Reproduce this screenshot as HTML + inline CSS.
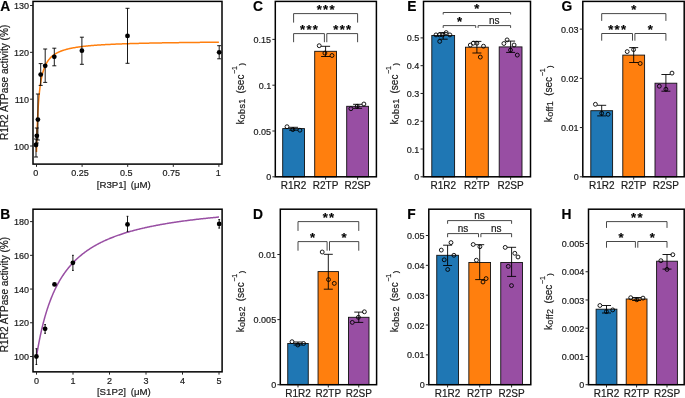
<!DOCTYPE html>
<html><head><meta charset="utf-8"><title>Figure</title>
<style>html,body{margin:0;padding:0;background:#fff;}body{width:685px;height:398px;overflow:hidden;font-family:"Liberation Sans", sans-serif;}svg{display:block;will-change:transform;}text{stroke:#1a1a1a;stroke-width:0.2px;stroke-linejoin:round;}</style>
</head><body><svg width="685" height="398" viewBox="0 0 685 398" font-family='"Liberation Sans", sans-serif'><rect x="33" y="1.4" width="189" height="162.7" fill="none" stroke="#000" stroke-width="1.5"/><line x1="30.05" y1="146" x2="33" y2="146" stroke="#222" stroke-width="1"/><text x="29.05" y="149.55" font-size="9" text-anchor="end" font-weight="normal" fill="#1a1a1a">100</text><line x1="30.05" y1="99.17" x2="33" y2="99.17" stroke="#222" stroke-width="1"/><text x="29.05" y="102.72" font-size="9" text-anchor="end" font-weight="normal" fill="#1a1a1a">110</text><line x1="30.05" y1="52.34" x2="33" y2="52.34" stroke="#222" stroke-width="1"/><text x="29.05" y="55.89" font-size="9" text-anchor="end" font-weight="normal" fill="#1a1a1a">120</text><line x1="30.05" y1="5.51" x2="33" y2="5.51" stroke="#222" stroke-width="1"/><text x="29.05" y="9.06" font-size="9" text-anchor="end" font-weight="normal" fill="#1a1a1a">130</text><line x1="36.5" y1="164.1" x2="36.5" y2="166.85" stroke="#222" stroke-width="1"/><text x="35.85" y="175.8" font-size="9" text-anchor="middle" font-weight="normal" fill="#1a1a1a">0</text><line x1="82.1" y1="164.1" x2="82.1" y2="166.85" stroke="#222" stroke-width="1"/><text x="80.1" y="175.8" font-size="9" text-anchor="middle" font-weight="normal" fill="#1a1a1a">0.25</text><line x1="127.7" y1="164.1" x2="127.7" y2="166.85" stroke="#222" stroke-width="1"/><text x="126.15" y="175.8" font-size="9" text-anchor="middle" font-weight="normal" fill="#1a1a1a">0.5</text><line x1="173.3" y1="164.1" x2="173.3" y2="166.85" stroke="#222" stroke-width="1"/><text x="171.3" y="175.8" font-size="9" text-anchor="middle" font-weight="normal" fill="#1a1a1a">0.75</text><line x1="218.9" y1="164.1" x2="218.9" y2="166.85" stroke="#222" stroke-width="1"/><text x="218.25" y="175.8" font-size="9" text-anchor="middle" font-weight="normal" fill="#1a1a1a">1</text><text x="96.7" y="187.6" font-size="9.7" text-anchor="start" font-weight="normal" fill="#1a1a1a">[R3P1]</text><text x="130.7" y="187.6" font-size="9.7" text-anchor="start" font-weight="normal" fill="#1a1a1a">(μM)</text><text transform="translate(7.8,82.4) rotate(-90)" font-size="10.1" text-anchor="middle" fill="#1a1a1a">R1R2 ATPase activity (%)</text><text x="0.25" y="10.9" font-size="13.8" text-anchor="start" font-weight="bold" fill="#000">A</text><polyline points="36.5,152.09 36.5,152.07 36.5,152.02 36.5,151.92 36.51,151.77 36.51,151.57 36.52,151.31 36.52,151 36.53,150.64 36.54,150.22 36.55,149.74 36.57,149.2 36.58,148.61 36.6,147.97 36.61,147.27 36.63,146.52 36.65,145.72 36.68,144.87 36.7,143.98 36.72,143.04 36.75,142.05 36.78,141.03 36.81,139.96 36.84,138.87 36.87,137.74 36.91,136.58 36.95,135.39 36.98,134.17 37.03,132.94 37.07,131.68 37.11,130.41 37.16,129.12 37.2,127.82 37.25,126.51 37.3,125.2 37.36,123.88 37.41,122.55 37.47,121.22 37.53,119.9 37.59,118.57 37.65,117.25 37.72,115.94 37.78,114.63 37.85,113.34 37.92,112.05 37.99,110.77 38.07,109.51 38.14,108.26 38.22,107.02 38.3,105.8 38.38,104.59 38.46,103.4 38.55,102.22 38.64,101.07 38.73,99.93 38.82,98.81 38.91,97.7 39.01,96.62 39.11,95.55 39.21,94.51 39.31,93.48 39.41,92.47 39.52,91.48 39.63,90.51 39.74,89.56 39.85,88.62 39.96,87.71 40.08,86.81 40.2,85.93 40.32,85.07 40.44,84.23 40.57,83.4 40.69,82.6 40.82,81.81 40.95,81.03 41.09,80.28 41.22,79.54 41.36,78.81 41.5,78.1 41.64,77.41 41.79,76.73 41.93,76.07 42.08,75.42 42.23,74.79 42.39,74.17 42.54,73.56 42.7,72.97 42.86,72.39 43.02,71.82 43.19,71.26 43.35,70.72 43.52,70.19 43.69,69.67 43.86,69.16 44.04,68.67 44.22,68.18 44.4,67.71 44.58,67.25 44.76,66.79 44.95,66.35 45.14,65.91 45.33,65.49 45.52,65.07 45.72,64.67 45.92,64.27 46.12,63.88 46.32,63.5 46.53,63.13 46.73,62.76 46.94,62.41 47.16,62.06 47.37,61.71 47.59,61.38 47.8,61.05 48.03,60.73 48.25,60.42 48.48,60.11 48.7,59.81 48.93,59.51 49.17,59.23 49.4,58.94 49.64,58.67 49.88,58.39 50.12,58.13 50.37,57.87 50.62,57.61 50.87,57.36 51.12,57.12 51.37,56.88 51.63,56.64 51.89,56.41 52.15,56.18 52.41,55.96 52.68,55.74 52.95,55.53 53.22,55.32 53.49,55.12 53.77,54.91 54.05,54.72 54.33,54.52 54.61,54.33 54.9,54.15 55.19,53.96 55.48,53.78 55.77,53.61 56.07,53.44 56.36,53.27 56.66,53.1 56.97,52.94 57.27,52.77 57.58,52.62 57.89,52.46 58.2,52.31 58.52,52.16 58.84,52.01 59.16,51.87 59.48,51.73 59.81,51.59 60.13,51.45 60.46,51.32 60.8,51.19 61.13,51.06 61.47,50.93 61.81,50.8 62.15,50.68 62.5,50.56 62.85,50.44 63.2,50.32 63.55,50.21 63.91,50.09 64.26,49.98 64.62,49.87 64.99,49.77 65.35,49.66 65.72,49.56 66.09,49.45 66.47,49.35 66.84,49.25 67.22,49.16 67.6,49.06 67.98,48.97 68.37,48.87 68.76,48.78 69.15,48.69 69.54,48.6 69.94,48.52 70.34,48.43 70.74,48.34 71.14,48.26 71.55,48.18 71.96,48.1 72.37,48.02 72.79,47.94 73.2,47.86 73.62,47.79 74.05,47.71 74.47,47.64 74.9,47.57 75.33,47.49 75.76,47.42 76.2,47.35 76.64,47.29 77.08,47.22 77.52,47.15 77.96,47.09 78.41,47.02 78.86,46.96 79.32,46.89 79.77,46.83 80.23,46.77 80.7,46.71 81.16,46.65 81.63,46.59 82.1,46.54 82.57,46.48 83.04,46.42 83.52,46.37 84,46.31 84.48,46.26 84.97,46.21 85.46,46.15 85.95,46.1 86.44,46.05 86.94,46 87.44,45.95 87.94,45.9 88.44,45.85 88.95,45.81 89.46,45.76 89.97,45.71 90.49,45.67 91.01,45.62 91.53,45.58 92.05,45.53 92.57,45.49 93.1,45.45 93.63,45.4 94.17,45.36 94.71,45.32 95.24,45.28 95.79,45.24 96.33,45.2 96.88,45.16 97.43,45.12 97.98,45.08 98.54,45.04 99.1,45.01 99.66,44.97 100.22,44.93 100.79,44.9 101.36,44.86 101.93,44.83 102.5,44.79 103.08,44.76 103.66,44.72 104.25,44.69 104.83,44.66 105.42,44.62 106.01,44.59 106.61,44.56 107.2,44.53 107.8,44.5 108.4,44.47 109.01,44.44 109.62,44.41 110.23,44.38 110.84,44.35 111.46,44.32 112.08,44.29 112.7,44.26 113.32,44.23 113.95,44.2 114.58,44.18 115.21,44.15 115.85,44.12 116.49,44.09 117.13,44.07 117.77,44.04 118.42,44.02 119.07,43.99 119.72,43.97 120.38,43.94 121.04,43.92 121.7,43.89 122.36,43.87 123.03,43.84 123.7,43.82 124.37,43.8 125.04,43.77 125.72,43.75 126.4,43.73 127.09,43.71 127.77,43.68 128.46,43.66 129.15,43.64 129.85,43.62 130.54,43.6 131.25,43.58 131.95,43.56 132.65,43.54 133.36,43.52 134.08,43.49 134.79,43.47 135.51,43.46 136.23,43.44 136.95,43.42 137.68,43.4 138.41,43.38 139.14,43.36 139.87,43.34 140.61,43.32 141.35,43.3 142.09,43.29 142.84,43.27 143.59,43.25 144.34,43.23 145.09,43.22 145.85,43.2 146.61,43.18 147.37,43.16 148.14,43.15 148.91,43.13 149.68,43.12 150.46,43.1 151.23,43.08 152.01,43.07 152.8,43.05 153.58,43.04 154.37,43.02 155.17,43 155.96,42.99 156.76,42.97 157.56,42.96 158.36,42.95 159.17,42.93 159.98,42.92 160.79,42.9 161.61,42.89 162.42,42.87 163.25,42.86 164.07,42.85 164.9,42.83 165.73,42.82 166.56,42.81 167.39,42.79 168.23,42.78 169.07,42.77 169.92,42.75 170.77,42.74 171.62,42.73 172.47,42.71 173.33,42.7 174.19,42.69 175.05,42.68 175.91,42.67 176.78,42.65 177.65,42.64 178.52,42.63 179.4,42.62 180.28,42.61 181.16,42.59 182.05,42.58 182.94,42.57 183.83,42.56 184.72,42.55 185.62,42.54 186.52,42.53 187.42,42.52 188.33,42.51 189.24,42.49 190.15,42.48 191.07,42.47 191.98,42.46 192.91,42.45 193.83,42.44 194.76,42.43 195.69,42.42 196.62,42.41 197.56,42.4 198.49,42.39 199.44,42.38 200.38,42.37 201.33,42.36 202.28,42.35 203.23,42.34 204.19,42.34 205.15,42.33 206.11,42.32 207.08,42.31 208.05,42.3 209.02,42.29 209.99,42.28 210.97,42.27 211.95,42.26 212.93,42.25 213.92,42.25 214.91,42.24 215.9,42.23 216.9,42.22 217.9,42.21 218.9,42.2" fill="none" stroke="#ff7f0e" stroke-width="1.5"/><line x1="36" y1="139" x2="36" y2="157" stroke="#000" stroke-width="0.9"/><line x1="34" y1="139" x2="38" y2="139" stroke="#000" stroke-width="0.9"/><line x1="34" y1="157" x2="38" y2="157" stroke="#000" stroke-width="0.9"/><line x1="36.8" y1="128" x2="36.8" y2="143" stroke="#000" stroke-width="0.9"/><line x1="34.8" y1="128" x2="38.8" y2="128" stroke="#000" stroke-width="0.9"/><line x1="34.8" y1="143" x2="38.8" y2="143" stroke="#000" stroke-width="0.9"/><line x1="37.9" y1="94" x2="37.9" y2="140" stroke="#000" stroke-width="0.9"/><line x1="35.9" y1="94" x2="39.9" y2="94" stroke="#000" stroke-width="0.9"/><line x1="35.9" y1="140" x2="39.9" y2="140" stroke="#000" stroke-width="0.9"/><line x1="40.7" y1="63.6" x2="40.7" y2="85.4" stroke="#000" stroke-width="0.9"/><line x1="38.7" y1="63.6" x2="42.7" y2="63.6" stroke="#000" stroke-width="0.9"/><line x1="38.7" y1="85.4" x2="42.7" y2="85.4" stroke="#000" stroke-width="0.9"/><line x1="45.2" y1="49" x2="45.2" y2="82.4" stroke="#000" stroke-width="0.9"/><line x1="43.2" y1="49" x2="47.2" y2="49" stroke="#000" stroke-width="0.9"/><line x1="43.2" y1="82.4" x2="47.2" y2="82.4" stroke="#000" stroke-width="0.9"/><line x1="54.3" y1="48.2" x2="54.3" y2="65.8" stroke="#000" stroke-width="0.9"/><line x1="52.3" y1="48.2" x2="56.3" y2="48.2" stroke="#000" stroke-width="0.9"/><line x1="52.3" y1="65.8" x2="56.3" y2="65.8" stroke="#000" stroke-width="0.9"/><line x1="81.9" y1="37.2" x2="81.9" y2="64.3" stroke="#000" stroke-width="0.9"/><line x1="79.9" y1="37.2" x2="83.9" y2="37.2" stroke="#000" stroke-width="0.9"/><line x1="79.9" y1="64.3" x2="83.9" y2="64.3" stroke="#000" stroke-width="0.9"/><line x1="127.5" y1="8.3" x2="127.5" y2="63.3" stroke="#000" stroke-width="0.9"/><line x1="125.5" y1="8.3" x2="129.5" y2="8.3" stroke="#000" stroke-width="0.9"/><line x1="125.5" y1="63.3" x2="129.5" y2="63.3" stroke="#000" stroke-width="0.9"/><line x1="219.2" y1="45.7" x2="219.2" y2="58.8" stroke="#000" stroke-width="0.9"/><line x1="217.2" y1="45.7" x2="221.2" y2="45.7" stroke="#000" stroke-width="0.9"/><line x1="217.2" y1="58.8" x2="221.2" y2="58.8" stroke="#000" stroke-width="0.9"/><circle cx="36" cy="145" r="2.4" fill="#000"/><circle cx="36.8" cy="135.8" r="2.4" fill="#000"/><circle cx="37.9" cy="119.6" r="2.4" fill="#000"/><circle cx="40.7" cy="74.6" r="2.4" fill="#000"/><circle cx="45.2" cy="65.8" r="2.4" fill="#000"/><circle cx="54.3" cy="56.8" r="2.4" fill="#000"/><circle cx="81.9" cy="50.7" r="2.4" fill="#000"/><circle cx="127.5" cy="35.9" r="2.4" fill="#000"/><circle cx="219.2" cy="52.3" r="2.4" fill="#000"/><rect x="33" y="209.2" width="189.1" height="162.65" fill="none" stroke="#000" stroke-width="1.5"/><line x1="30.05" y1="356.5" x2="33" y2="356.5" stroke="#222" stroke-width="1"/><text x="29.05" y="360.05" font-size="9" text-anchor="end" font-weight="normal" fill="#1a1a1a">100</text><line x1="30.05" y1="322.78" x2="33" y2="322.78" stroke="#222" stroke-width="1"/><text x="29.05" y="326.33" font-size="9" text-anchor="end" font-weight="normal" fill="#1a1a1a">120</text><line x1="30.05" y1="289.06" x2="33" y2="289.06" stroke="#222" stroke-width="1"/><text x="29.05" y="292.61" font-size="9" text-anchor="end" font-weight="normal" fill="#1a1a1a">140</text><line x1="30.05" y1="255.34" x2="33" y2="255.34" stroke="#222" stroke-width="1"/><text x="29.05" y="258.89" font-size="9" text-anchor="end" font-weight="normal" fill="#1a1a1a">160</text><line x1="30.05" y1="221.62" x2="33" y2="221.62" stroke="#222" stroke-width="1"/><text x="29.05" y="225.17" font-size="9" text-anchor="end" font-weight="normal" fill="#1a1a1a">180</text><line x1="36.5" y1="371.85" x2="36.5" y2="374.6" stroke="#222" stroke-width="1"/><text x="36.5" y="383.55" font-size="9" text-anchor="middle" font-weight="normal" fill="#1a1a1a">0</text><line x1="73" y1="371.85" x2="73" y2="374.6" stroke="#222" stroke-width="1"/><text x="73" y="383.55" font-size="9" text-anchor="middle" font-weight="normal" fill="#1a1a1a">1</text><line x1="109.5" y1="371.85" x2="109.5" y2="374.6" stroke="#222" stroke-width="1"/><text x="109.5" y="383.55" font-size="9" text-anchor="middle" font-weight="normal" fill="#1a1a1a">2</text><line x1="146" y1="371.85" x2="146" y2="374.6" stroke="#222" stroke-width="1"/><text x="146" y="383.55" font-size="9" text-anchor="middle" font-weight="normal" fill="#1a1a1a">3</text><line x1="182.5" y1="371.85" x2="182.5" y2="374.6" stroke="#222" stroke-width="1"/><text x="182.5" y="383.55" font-size="9" text-anchor="middle" font-weight="normal" fill="#1a1a1a">4</text><line x1="219" y1="371.85" x2="219" y2="374.6" stroke="#222" stroke-width="1"/><text x="219" y="383.55" font-size="9" text-anchor="middle" font-weight="normal" fill="#1a1a1a">5</text><text x="96.9" y="395" font-size="9.7" text-anchor="start" font-weight="normal" fill="#1a1a1a">[S1P2]</text><text x="130.7" y="395" font-size="9.7" text-anchor="start" font-weight="normal" fill="#1a1a1a">(μM)</text><text transform="translate(7.8,294.5) rotate(-90)" font-size="10.1" text-anchor="middle" fill="#1a1a1a">R1R2 ATPase activity (%)</text><text x="0.25" y="218.8" font-size="13.8" text-anchor="start" font-weight="bold" fill="#000">B</text><polyline points="36.5,356.5 36.54,356.28 36.6,355.88 36.68,355.36 36.78,354.76 36.89,354.08 37.02,353.33 37.15,352.52 37.29,351.67 37.45,350.77 37.61,349.83 37.78,348.85 37.96,347.84 38.15,346.81 38.34,345.75 38.54,344.66 38.75,343.56 38.96,342.43 39.18,341.29 39.41,340.14 39.64,338.98 39.88,337.8 40.12,336.62 40.37,335.43 40.63,334.24 40.89,333.04 41.16,331.84 41.43,330.64 41.7,329.43 41.99,328.23 42.27,327.03 42.56,325.83 42.86,324.64 43.16,323.44 43.46,322.26 43.77,321.07 44.09,319.9 44.4,318.73 44.73,317.56 45.05,316.41 45.39,315.26 45.72,314.12 46.06,312.98 46.4,311.86 46.75,310.74 47.1,309.64 47.46,308.54 47.82,307.46 48.18,306.38 48.55,305.31 48.92,304.26 49.29,303.21 49.67,302.17 50.05,301.15 50.44,300.13 50.83,299.13 51.22,298.13 51.61,297.15 52.01,296.18 52.42,295.21 52.82,294.26 53.23,293.32 53.65,292.39 54.06,291.47 54.48,290.56 54.91,289.66 55.33,288.78 55.76,287.9 56.19,287.03 56.63,286.17 57.07,285.33 57.51,284.49 57.96,283.66 58.41,282.85 58.86,282.04 59.31,281.24 59.77,280.46 60.23,279.68 60.69,278.91 61.16,278.15 61.63,277.4 62.1,276.66 62.58,275.93 63.06,275.21 63.54,274.5 64.02,273.79 64.51,273.1 65,272.41 65.49,271.74 65.99,271.07 66.49,270.4 66.99,269.75 67.49,269.11 68,268.47 68.51,267.84 69.02,267.22 69.54,266.61 70.05,266 70.57,265.4 71.1,264.81 71.62,264.23 72.15,263.65 72.68,263.08 73.21,262.52 73.75,261.96 74.29,261.42 74.83,260.87 75.37,260.34 75.92,259.81 76.47,259.29 77.02,258.77 77.57,258.26 78.13,257.76 78.69,257.26 79.25,256.77 79.81,256.29 80.38,255.81 80.95,255.33 81.52,254.87 82.09,254.4 82.67,253.95 83.25,253.49 83.83,253.05 84.41,252.61 85,252.17 85.58,251.74 86.17,251.32 86.77,250.9 87.36,250.48 87.96,250.07 88.56,249.66 89.16,249.26 89.76,248.87 90.37,248.47 90.98,248.09 91.59,247.7 92.2,247.33 92.82,246.95 93.44,246.58 94.06,246.21 94.68,245.85 95.3,245.5 95.93,245.14 96.56,244.79 97.19,244.45 97.82,244.11 98.46,243.77 99.1,243.43 99.74,243.1 100.38,242.78 101.02,242.45 101.67,242.13 102.32,241.82 102.97,241.5 103.62,241.19 104.28,240.89 104.93,240.59 105.59,240.29 106.25,239.99 106.92,239.7 107.58,239.41 108.25,239.12 108.92,238.84 109.59,238.55 110.26,238.28 110.94,238 111.62,237.73 112.3,237.46 112.98,237.19 113.66,236.93 114.35,236.67 115.04,236.41 115.73,236.16 116.42,235.9 117.11,235.65 117.81,235.4 118.51,235.16 119.21,234.92 119.91,234.68 120.61,234.44 121.32,234.2 122.03,233.97 122.74,233.74 123.45,233.51 124.16,233.28 124.88,233.06 125.59,232.84 126.31,232.62 127.04,232.4 127.76,232.19 128.48,231.97 129.21,231.76 129.94,231.55 130.67,231.34 131.4,231.14 132.14,230.94 132.88,230.73 133.61,230.54 134.35,230.34 135.1,230.14 135.84,229.95 136.59,229.76 137.33,229.57 138.08,229.38 138.84,229.19 139.59,229.01 140.34,228.82 141.1,228.64 141.86,228.46 142.62,228.28 143.38,228.11 144.15,227.93 144.91,227.76 145.68,227.59 146.45,227.42 147.22,227.25 148,227.08 148.77,226.92 149.55,226.75 150.33,226.59 151.11,226.43 151.89,226.27 152.67,226.11 153.46,225.95 154.25,225.8 155.04,225.64 155.83,225.49 156.62,225.34 157.42,225.19 158.21,225.04 159.01,224.89 159.81,224.74 160.61,224.6 161.42,224.46 162.22,224.31 163.03,224.17 163.84,224.03 164.65,223.89 165.46,223.75 166.27,223.62 167.09,223.48 167.9,223.35 168.72,223.21 169.54,223.08 170.36,222.95 171.19,222.82 172.01,222.69 172.84,222.56 173.67,222.44 174.5,222.31 175.33,222.19 176.17,222.06 177,221.94 177.84,221.82 178.68,221.7 179.52,221.58 180.36,221.46 181.2,221.34 182.05,221.22 182.9,221.11 183.75,220.99 184.6,220.88 185.45,220.76 186.3,220.65 187.16,220.54 188.01,220.43 188.87,220.32 189.73,220.21 190.59,220.1 191.46,219.99 192.32,219.89 193.19,219.78 194.06,219.68 194.93,219.57 195.8,219.47 196.67,219.37 197.54,219.26 198.42,219.16 199.3,219.06 200.18,218.96 201.06,218.87 201.94,218.77 202.82,218.67 203.71,218.57 204.6,218.48 205.49,218.38 206.38,218.29 207.27,218.19 208.16,218.1 209.06,218.01 209.95,217.92 210.85,217.83 211.75,217.74 212.65,217.65 213.55,217.56 214.46,217.47 215.36,217.38 216.27,217.29 217.18,217.21 218.09,217.12 219,217.04" fill="none" stroke="#984ea3" stroke-width="1.5"/><line x1="36.4" y1="348.7" x2="36.4" y2="364.5" stroke="#000" stroke-width="0.9"/><line x1="35.5" y1="348.7" x2="37.3" y2="348.7" stroke="#000" stroke-width="0.9"/><line x1="35.5" y1="364.5" x2="37.3" y2="364.5" stroke="#000" stroke-width="0.9"/><line x1="45.1" y1="324.6" x2="45.1" y2="333.3" stroke="#000" stroke-width="0.9"/><line x1="44.2" y1="324.6" x2="46" y2="324.6" stroke="#000" stroke-width="0.9"/><line x1="44.2" y1="333.3" x2="46" y2="333.3" stroke="#000" stroke-width="0.9"/><line x1="72.9" y1="255.3" x2="72.9" y2="270.4" stroke="#000" stroke-width="0.9"/><line x1="72" y1="255.3" x2="73.8" y2="255.3" stroke="#000" stroke-width="0.9"/><line x1="72" y1="270.4" x2="73.8" y2="270.4" stroke="#000" stroke-width="0.9"/><line x1="127.5" y1="216.3" x2="127.5" y2="231.4" stroke="#000" stroke-width="0.9"/><line x1="126.6" y1="216.3" x2="128.4" y2="216.3" stroke="#000" stroke-width="0.9"/><line x1="126.6" y1="231.4" x2="128.4" y2="231.4" stroke="#000" stroke-width="0.9"/><line x1="219.2" y1="219.6" x2="219.2" y2="228.1" stroke="#000" stroke-width="0.9"/><line x1="218.3" y1="219.6" x2="220.1" y2="219.6" stroke="#000" stroke-width="0.9"/><line x1="218.3" y1="228.1" x2="220.1" y2="228.1" stroke="#000" stroke-width="0.9"/><circle cx="36.4" cy="356.5" r="2.4" fill="#000"/><circle cx="45.1" cy="328.8" r="2.4" fill="#000"/><circle cx="54.5" cy="284.4" r="2.4" fill="#000"/><circle cx="72.9" cy="262.8" r="2.4" fill="#000"/><circle cx="127.5" cy="224.4" r="2.4" fill="#000"/><circle cx="219.2" cy="223.9" r="2.4" fill="#000"/><rect x="282.7" y="128.6" width="21.8" height="48.2" fill="#1f77b4" stroke="#111" stroke-width="0.9"/><rect x="314.7" y="51.3" width="21.8" height="125.5" fill="#ff7f0e" stroke="#111" stroke-width="0.9"/><rect x="346.7" y="106.3" width="21.8" height="70.5" fill="#984ea3" stroke="#111" stroke-width="0.9"/><line x1="293.6" y1="127.3" x2="293.6" y2="130.2" stroke="#000" stroke-width="0.9"/><line x1="289.1" y1="127.3" x2="298.1" y2="127.3" stroke="#000" stroke-width="0.9"/><line x1="289.1" y1="130.2" x2="298.1" y2="130.2" stroke="#000" stroke-width="0.9"/><line x1="325.6" y1="46.3" x2="325.6" y2="56.5" stroke="#000" stroke-width="0.9"/><line x1="321.1" y1="46.3" x2="330.1" y2="46.3" stroke="#000" stroke-width="0.9"/><line x1="321.1" y1="56.5" x2="330.1" y2="56.5" stroke="#000" stroke-width="0.9"/><line x1="357.6" y1="104.3" x2="357.6" y2="108.3" stroke="#000" stroke-width="0.9"/><line x1="353.1" y1="104.3" x2="362.1" y2="104.3" stroke="#000" stroke-width="0.9"/><line x1="353.1" y1="108.3" x2="362.1" y2="108.3" stroke="#000" stroke-width="0.9"/><circle cx="287" cy="126.7" r="1.95" fill="none" stroke="#000" stroke-width="0.9"/><circle cx="299.9" cy="130.2" r="1.95" fill="none" stroke="#000" stroke-width="0.9"/><circle cx="292.8" cy="129.6" r="1.95" fill="none" stroke="#000" stroke-width="0.9"/><circle cx="319.2" cy="45.7" r="1.95" fill="none" stroke="#000" stroke-width="0.9"/><circle cx="332" cy="55.5" r="1.95" fill="none" stroke="#000" stroke-width="0.9"/><circle cx="324.9" cy="53.1" r="1.95" fill="none" stroke="#000" stroke-width="0.9"/><circle cx="363.9" cy="104" r="1.95" fill="none" stroke="#000" stroke-width="0.9"/><circle cx="350.9" cy="108.7" r="1.95" fill="none" stroke="#000" stroke-width="0.9"/><circle cx="357.2" cy="106.3" r="1.95" fill="none" stroke="#000" stroke-width="0.9"/><rect x="275.3" y="1.4" width="101.1" height="175.4" fill="none" stroke="#000" stroke-width="1.5"/><line x1="272.35" y1="176.8" x2="275.3" y2="176.8" stroke="#222" stroke-width="1"/><text x="271.15" y="180.35" font-size="9" text-anchor="end" font-weight="normal" fill="#1a1a1a">0</text><line x1="272.35" y1="131" x2="275.3" y2="131" stroke="#222" stroke-width="1"/><text x="271.15" y="134.55" font-size="9" text-anchor="end" font-weight="normal" fill="#1a1a1a">0.05</text><line x1="272.35" y1="85.2" x2="275.3" y2="85.2" stroke="#222" stroke-width="1"/><text x="271.15" y="88.75" font-size="9" text-anchor="end" font-weight="normal" fill="#1a1a1a">0.1</text><line x1="272.35" y1="39.4" x2="275.3" y2="39.4" stroke="#222" stroke-width="1"/><text x="271.15" y="42.95" font-size="9" text-anchor="end" font-weight="normal" fill="#1a1a1a">0.15</text><line x1="293.6" y1="176.8" x2="293.6" y2="179.55" stroke="#222" stroke-width="1"/><text x="293.6" y="188.8" font-size="10" text-anchor="middle" font-weight="normal" fill="#1a1a1a">R1R2</text><line x1="325.6" y1="176.8" x2="325.6" y2="179.55" stroke="#222" stroke-width="1"/><text x="325.6" y="188.8" font-size="10" text-anchor="middle" font-weight="normal" fill="#1a1a1a">R2TP</text><line x1="357.6" y1="176.8" x2="357.6" y2="179.55" stroke="#222" stroke-width="1"/><text x="357.6" y="188.8" font-size="10" text-anchor="middle" font-weight="normal" fill="#1a1a1a">R2SP</text><path d="M293.6 22.6V13.6H357.6V22.6" fill="none" stroke="#333" stroke-width="0.9"/><text x="319.2" y="13.6" font-size="13" text-anchor="middle" font-weight="bold" fill="#000">*</text><text x="325.6" y="13.6" font-size="13" text-anchor="middle" font-weight="bold" fill="#000">*</text><text x="332" y="13.6" font-size="13" text-anchor="middle" font-weight="bold" fill="#000">*</text><path d="M293.6 42.2V33.6H324.4V42.2" fill="none" stroke="#333" stroke-width="0.9"/><path d="M326.8 42.2V33.6H357.6V42.2" fill="none" stroke="#333" stroke-width="0.9"/><text x="302.6" y="33.6" font-size="13" text-anchor="middle" font-weight="bold" fill="#000">*</text><text x="309" y="33.6" font-size="13" text-anchor="middle" font-weight="bold" fill="#000">*</text><text x="315.4" y="33.6" font-size="13" text-anchor="middle" font-weight="bold" fill="#000">*</text><text x="335.8" y="33.6" font-size="13" text-anchor="middle" font-weight="bold" fill="#000">*</text><text x="342.2" y="33.6" font-size="13" text-anchor="middle" font-weight="bold" fill="#000">*</text><text x="348.6" y="33.6" font-size="13" text-anchor="middle" font-weight="bold" fill="#000">*</text><g transform="translate(244,123.84) rotate(-90)" fill="#1a1a1a"><text x="-0.65" y="0" font-size="10">k</text><text x="4.65" y="1.4" font-size="9" letter-spacing="0.3">obs1</text><text x="30.38" y="0" font-size="10">(sec</text><text x="49.83" y="-7.2" font-size="7">−1</text><text x="58.3" y="0" font-size="7.5">)</text></g><text x="253" y="10.9" font-size="13.8" text-anchor="start" font-weight="bold" fill="#000">C</text><rect x="287.75" y="343.5" width="20.5" height="41.2" fill="#1f77b4" stroke="#111" stroke-width="0.9"/><rect x="318.05" y="271.6" width="20.5" height="113.1" fill="#ff7f0e" stroke="#111" stroke-width="0.9"/><rect x="348.5" y="317.3" width="20.5" height="67.4" fill="#984ea3" stroke="#111" stroke-width="0.9"/><line x1="298" y1="342" x2="298" y2="345" stroke="#000" stroke-width="0.9"/><line x1="293.5" y1="342" x2="302.5" y2="342" stroke="#000" stroke-width="0.9"/><line x1="293.5" y1="345" x2="302.5" y2="345" stroke="#000" stroke-width="0.9"/><line x1="328.3" y1="254.3" x2="328.3" y2="289.2" stroke="#000" stroke-width="0.9"/><line x1="323.8" y1="254.3" x2="332.8" y2="254.3" stroke="#000" stroke-width="0.9"/><line x1="323.8" y1="289.2" x2="332.8" y2="289.2" stroke="#000" stroke-width="0.9"/><line x1="358.75" y1="312.1" x2="358.75" y2="322.4" stroke="#000" stroke-width="0.9"/><line x1="354.25" y1="312.1" x2="363.25" y2="312.1" stroke="#000" stroke-width="0.9"/><line x1="354.25" y1="322.4" x2="363.25" y2="322.4" stroke="#000" stroke-width="0.9"/><circle cx="292" cy="341.7" r="1.95" fill="none" stroke="#000" stroke-width="0.9"/><circle cx="297.8" cy="345" r="1.95" fill="none" stroke="#000" stroke-width="0.9"/><circle cx="303.6" cy="343.5" r="1.95" fill="none" stroke="#000" stroke-width="0.9"/><circle cx="322.2" cy="252" r="1.95" fill="none" stroke="#000" stroke-width="0.9"/><circle cx="328.5" cy="279.6" r="1.95" fill="none" stroke="#000" stroke-width="0.9"/><circle cx="334.3" cy="283.4" r="1.95" fill="none" stroke="#000" stroke-width="0.9"/><circle cx="364.4" cy="311.8" r="1.95" fill="none" stroke="#000" stroke-width="0.9"/><circle cx="358.4" cy="317.3" r="1.95" fill="none" stroke="#000" stroke-width="0.9"/><circle cx="352.3" cy="322.4" r="1.95" fill="none" stroke="#000" stroke-width="0.9"/><rect x="280.3" y="209.2" width="96.3" height="175.5" fill="none" stroke="#000" stroke-width="1.5"/><line x1="277.35" y1="384.7" x2="280.3" y2="384.7" stroke="#222" stroke-width="1"/><text x="276.15" y="388.25" font-size="9" text-anchor="end" font-weight="normal" fill="#1a1a1a">0</text><line x1="277.35" y1="319.6" x2="280.3" y2="319.6" stroke="#222" stroke-width="1"/><text x="276.15" y="323.15" font-size="9" text-anchor="end" font-weight="normal" fill="#1a1a1a">0.005</text><line x1="277.35" y1="254.5" x2="280.3" y2="254.5" stroke="#222" stroke-width="1"/><text x="276.15" y="258.05" font-size="9" text-anchor="end" font-weight="normal" fill="#1a1a1a">0.01</text><line x1="298" y1="384.7" x2="298" y2="387.45" stroke="#222" stroke-width="1"/><text x="298" y="396.5" font-size="10" text-anchor="middle" font-weight="normal" fill="#1a1a1a">R1R2</text><line x1="328.3" y1="384.7" x2="328.3" y2="387.45" stroke="#222" stroke-width="1"/><text x="328.3" y="396.5" font-size="10" text-anchor="middle" font-weight="normal" fill="#1a1a1a">R2TP</text><line x1="358.75" y1="384.7" x2="358.75" y2="387.45" stroke="#222" stroke-width="1"/><text x="358.75" y="396.5" font-size="10" text-anchor="middle" font-weight="normal" fill="#1a1a1a">R2SP</text><path d="M298 230.9V221.6H358.75V230.9" fill="none" stroke="#333" stroke-width="0.9"/><text x="325.18" y="221.6" font-size="13" text-anchor="middle" font-weight="bold" fill="#000">*</text><text x="331.57" y="221.6" font-size="13" text-anchor="middle" font-weight="bold" fill="#000">*</text><path d="M298 250.7V241.6H327.1V250.7" fill="none" stroke="#333" stroke-width="0.9"/><path d="M329.5 250.7V241.6H358.75V250.7" fill="none" stroke="#333" stroke-width="0.9"/><text x="312.55" y="241.6" font-size="13" text-anchor="middle" font-weight="bold" fill="#000">*</text><text x="344.12" y="241.6" font-size="13" text-anchor="middle" font-weight="bold" fill="#000">*</text><g transform="translate(244,331.64) rotate(-90)" fill="#1a1a1a"><text x="-0.65" y="0" font-size="10">k</text><text x="4.65" y="1.4" font-size="9" letter-spacing="0.3">obs2</text><text x="30.38" y="0" font-size="10">(sec</text><text x="49.83" y="-7.2" font-size="7">−1</text><text x="58.3" y="0" font-size="7.5">)</text></g><text x="253" y="218.8" font-size="13.8" text-anchor="start" font-weight="bold" fill="#000">D</text><rect x="431.8" y="35.5" width="22.8" height="141.3" fill="#1f77b4" stroke="#111" stroke-width="0.9"/><rect x="465.5" y="47.2" width="22.8" height="129.6" fill="#ff7f0e" stroke="#111" stroke-width="0.9"/><rect x="499.2" y="46.9" width="22.8" height="129.9" fill="#984ea3" stroke="#111" stroke-width="0.9"/><line x1="443.2" y1="32.6" x2="443.2" y2="39.2" stroke="#000" stroke-width="0.9"/><line x1="438.7" y1="32.6" x2="447.7" y2="32.6" stroke="#000" stroke-width="0.9"/><line x1="438.7" y1="39.2" x2="447.7" y2="39.2" stroke="#000" stroke-width="0.9"/><line x1="476.9" y1="41.4" x2="476.9" y2="53" stroke="#000" stroke-width="0.9"/><line x1="472.4" y1="41.4" x2="481.4" y2="41.4" stroke="#000" stroke-width="0.9"/><line x1="472.4" y1="53" x2="481.4" y2="53" stroke="#000" stroke-width="0.9"/><line x1="510.6" y1="41.1" x2="510.6" y2="52.4" stroke="#000" stroke-width="0.9"/><line x1="506.1" y1="41.1" x2="515.1" y2="41.1" stroke="#000" stroke-width="0.9"/><line x1="506.1" y1="52.4" x2="515.1" y2="52.4" stroke="#000" stroke-width="0.9"/><circle cx="436" cy="34.9" r="1.95" fill="none" stroke="#000" stroke-width="0.9"/><circle cx="439.4" cy="34.9" r="1.95" fill="none" stroke="#000" stroke-width="0.9"/><circle cx="442.6" cy="34.9" r="1.95" fill="none" stroke="#000" stroke-width="0.9"/><circle cx="446.2" cy="32.6" r="1.95" fill="none" stroke="#000" stroke-width="0.9"/><circle cx="449.9" cy="34.9" r="1.95" fill="none" stroke="#000" stroke-width="0.9"/><circle cx="439.7" cy="41.4" r="1.95" fill="none" stroke="#000" stroke-width="0.9"/><circle cx="470.3" cy="45.1" r="1.95" fill="none" stroke="#000" stroke-width="0.9"/><circle cx="473.3" cy="43.2" r="1.95" fill="none" stroke="#000" stroke-width="0.9"/><circle cx="476.9" cy="43.2" r="1.95" fill="none" stroke="#000" stroke-width="0.9"/><circle cx="483.5" cy="46.2" r="1.95" fill="none" stroke="#000" stroke-width="0.9"/><circle cx="480.3" cy="57.1" r="1.95" fill="none" stroke="#000" stroke-width="0.9"/><circle cx="503.9" cy="43.5" r="1.95" fill="none" stroke="#000" stroke-width="0.9"/><circle cx="507.1" cy="39.9" r="1.95" fill="none" stroke="#000" stroke-width="0.9"/><circle cx="510.5" cy="50.1" r="1.95" fill="none" stroke="#000" stroke-width="0.9"/><circle cx="514.1" cy="45" r="1.95" fill="none" stroke="#000" stroke-width="0.9"/><circle cx="517.3" cy="55.1" r="1.95" fill="none" stroke="#000" stroke-width="0.9"/><rect x="423.5" y="1.4" width="107" height="175.4" fill="none" stroke="#000" stroke-width="1.5"/><line x1="420.55" y1="176.8" x2="423.5" y2="176.8" stroke="#222" stroke-width="1"/><text x="419.35" y="180.35" font-size="9" text-anchor="end" font-weight="normal" fill="#1a1a1a">0</text><line x1="420.55" y1="149.02" x2="423.5" y2="149.02" stroke="#222" stroke-width="1"/><text x="419.35" y="152.57" font-size="9" text-anchor="end" font-weight="normal" fill="#1a1a1a">0.1</text><line x1="420.55" y1="121.24" x2="423.5" y2="121.24" stroke="#222" stroke-width="1"/><text x="419.35" y="124.79" font-size="9" text-anchor="end" font-weight="normal" fill="#1a1a1a">0.2</text><line x1="420.55" y1="93.46" x2="423.5" y2="93.46" stroke="#222" stroke-width="1"/><text x="419.35" y="97.01" font-size="9" text-anchor="end" font-weight="normal" fill="#1a1a1a">0.3</text><line x1="420.55" y1="65.68" x2="423.5" y2="65.68" stroke="#222" stroke-width="1"/><text x="419.35" y="69.23" font-size="9" text-anchor="end" font-weight="normal" fill="#1a1a1a">0.4</text><line x1="420.55" y1="37.9" x2="423.5" y2="37.9" stroke="#222" stroke-width="1"/><text x="419.35" y="41.45" font-size="9" text-anchor="end" font-weight="normal" fill="#1a1a1a">0.5</text><line x1="443.2" y1="176.8" x2="443.2" y2="179.55" stroke="#222" stroke-width="1"/><text x="443.2" y="188.8" font-size="10" text-anchor="middle" font-weight="normal" fill="#1a1a1a">R1R2</text><line x1="476.9" y1="176.8" x2="476.9" y2="179.55" stroke="#222" stroke-width="1"/><text x="476.9" y="188.8" font-size="10" text-anchor="middle" font-weight="normal" fill="#1a1a1a">R2TP</text><line x1="510.6" y1="176.8" x2="510.6" y2="179.55" stroke="#222" stroke-width="1"/><text x="510.6" y="188.8" font-size="10" text-anchor="middle" font-weight="normal" fill="#1a1a1a">R2SP</text><path d="M443.2 14.5V12.5H510.6V14.5" fill="none" stroke="#333" stroke-width="0.9"/><text x="476.9" y="12.5" font-size="13" text-anchor="middle" font-weight="bold" fill="#000">*</text><path d="M443.2 27.9V25.6H475.7V27.9" fill="none" stroke="#333" stroke-width="0.9"/><path d="M478.1 27.9V25.6H510.6V27.9" fill="none" stroke="#333" stroke-width="0.9"/><text x="459.45" y="25.6" font-size="13" text-anchor="middle" font-weight="bold" fill="#000">*</text><text x="494.35" y="23.6" font-size="10" text-anchor="middle" font-weight="normal" fill="#1a1a1a">ns</text><g transform="translate(397.9,123.84) rotate(-90)" fill="#1a1a1a"><text x="-0.65" y="0" font-size="10">k</text><text x="4.65" y="1.4" font-size="9" letter-spacing="0.3">obs1</text><text x="30.38" y="0" font-size="10">(sec</text><text x="49.83" y="-7.2" font-size="7">−1</text><text x="58.3" y="0" font-size="7.5">)</text></g><text x="407.2" y="10.9" font-size="13.8" text-anchor="start" font-weight="bold" fill="#000">E</text><rect x="436.75" y="255.3" width="21.7" height="129.4" fill="#1f77b4" stroke="#111" stroke-width="0.9"/><rect x="468.85" y="262.5" width="21.7" height="122.2" fill="#ff7f0e" stroke="#111" stroke-width="0.9"/><rect x="500.75" y="262.5" width="21.7" height="122.2" fill="#984ea3" stroke="#111" stroke-width="0.9"/><line x1="447.6" y1="245.2" x2="447.6" y2="265.5" stroke="#000" stroke-width="0.9"/><line x1="443.1" y1="245.2" x2="452.1" y2="245.2" stroke="#000" stroke-width="0.9"/><line x1="443.1" y1="265.5" x2="452.1" y2="265.5" stroke="#000" stroke-width="0.9"/><line x1="479.7" y1="244.7" x2="479.7" y2="279.6" stroke="#000" stroke-width="0.9"/><line x1="475.2" y1="244.7" x2="484.2" y2="244.7" stroke="#000" stroke-width="0.9"/><line x1="475.2" y1="279.6" x2="484.2" y2="279.6" stroke="#000" stroke-width="0.9"/><line x1="511.6" y1="247.3" x2="511.6" y2="276.4" stroke="#000" stroke-width="0.9"/><line x1="507.1" y1="247.3" x2="516.1" y2="247.3" stroke="#000" stroke-width="0.9"/><line x1="507.1" y1="276.4" x2="516.1" y2="276.4" stroke="#000" stroke-width="0.9"/><circle cx="451" cy="242.6" r="1.95" fill="none" stroke="#000" stroke-width="0.9"/><circle cx="441.3" cy="250.1" r="1.95" fill="none" stroke="#000" stroke-width="0.9"/><circle cx="453.9" cy="255.3" r="1.95" fill="none" stroke="#000" stroke-width="0.9"/><circle cx="444.2" cy="259.8" r="1.95" fill="none" stroke="#000" stroke-width="0.9"/><circle cx="447.7" cy="269.5" r="1.95" fill="none" stroke="#000" stroke-width="0.9"/><circle cx="473.2" cy="244.5" r="1.95" fill="none" stroke="#000" stroke-width="0.9"/><circle cx="479.9" cy="246.7" r="1.95" fill="none" stroke="#000" stroke-width="0.9"/><circle cx="476.4" cy="260.2" r="1.95" fill="none" stroke="#000" stroke-width="0.9"/><circle cx="486.1" cy="278.6" r="1.95" fill="none" stroke="#000" stroke-width="0.9"/><circle cx="483" cy="282" r="1.95" fill="none" stroke="#000" stroke-width="0.9"/><circle cx="505.2" cy="247.4" r="1.95" fill="none" stroke="#000" stroke-width="0.9"/><circle cx="514.8" cy="253.3" r="1.95" fill="none" stroke="#000" stroke-width="0.9"/><circle cx="518" cy="257" r="1.95" fill="none" stroke="#000" stroke-width="0.9"/><circle cx="508.3" cy="266.4" r="1.95" fill="none" stroke="#000" stroke-width="0.9"/><circle cx="511.5" cy="285.6" r="1.95" fill="none" stroke="#000" stroke-width="0.9"/><rect x="428.8" y="209.2" width="102" height="175.5" fill="none" stroke="#000" stroke-width="1.5"/><line x1="425.85" y1="384.7" x2="428.8" y2="384.7" stroke="#222" stroke-width="1"/><text x="424.65" y="388.25" font-size="9" text-anchor="end" font-weight="normal" fill="#1a1a1a">0</text><line x1="425.85" y1="354.86" x2="428.8" y2="354.86" stroke="#222" stroke-width="1"/><text x="424.65" y="358.41" font-size="9" text-anchor="end" font-weight="normal" fill="#1a1a1a">0.01</text><line x1="425.85" y1="325.02" x2="428.8" y2="325.02" stroke="#222" stroke-width="1"/><text x="424.65" y="328.57" font-size="9" text-anchor="end" font-weight="normal" fill="#1a1a1a">0.02</text><line x1="425.85" y1="295.18" x2="428.8" y2="295.18" stroke="#222" stroke-width="1"/><text x="424.65" y="298.73" font-size="9" text-anchor="end" font-weight="normal" fill="#1a1a1a">0.03</text><line x1="425.85" y1="265.34" x2="428.8" y2="265.34" stroke="#222" stroke-width="1"/><text x="424.65" y="268.89" font-size="9" text-anchor="end" font-weight="normal" fill="#1a1a1a">0.04</text><line x1="425.85" y1="235.5" x2="428.8" y2="235.5" stroke="#222" stroke-width="1"/><text x="424.65" y="239.05" font-size="9" text-anchor="end" font-weight="normal" fill="#1a1a1a">0.05</text><line x1="447.6" y1="384.7" x2="447.6" y2="387.45" stroke="#222" stroke-width="1"/><text x="447.6" y="396.5" font-size="10" text-anchor="middle" font-weight="normal" fill="#1a1a1a">R1R2</text><line x1="479.7" y1="384.7" x2="479.7" y2="387.45" stroke="#222" stroke-width="1"/><text x="479.7" y="396.5" font-size="10" text-anchor="middle" font-weight="normal" fill="#1a1a1a">R2TP</text><line x1="511.6" y1="384.7" x2="511.6" y2="387.45" stroke="#222" stroke-width="1"/><text x="511.6" y="396.5" font-size="10" text-anchor="middle" font-weight="normal" fill="#1a1a1a">R2SP</text><path d="M447.6 223.8V220.6H511.6V223.8" fill="none" stroke="#333" stroke-width="0.9"/><text x="479.6" y="218.6" font-size="10" text-anchor="middle" font-weight="normal" fill="#1a1a1a">ns</text><path d="M447.6 237.2V233.6H478.5V237.2" fill="none" stroke="#333" stroke-width="0.9"/><path d="M480.9 237.2V233.6H511.6V237.2" fill="none" stroke="#333" stroke-width="0.9"/><text x="463.05" y="231.6" font-size="10" text-anchor="middle" font-weight="normal" fill="#1a1a1a">ns</text><text x="496.25" y="231.6" font-size="10" text-anchor="middle" font-weight="normal" fill="#1a1a1a">ns</text><g transform="translate(397.9,331.64) rotate(-90)" fill="#1a1a1a"><text x="-0.65" y="0" font-size="10">k</text><text x="4.65" y="1.4" font-size="9" letter-spacing="0.3">obs2</text><text x="30.38" y="0" font-size="10">(sec</text><text x="49.83" y="-7.2" font-size="7">−1</text><text x="58.3" y="0" font-size="7.5">)</text></g><text x="407.2" y="218.8" font-size="13.8" text-anchor="start" font-weight="bold" fill="#000">F</text><rect x="590.8" y="110.7" width="21.8" height="66.1" fill="#1f77b4" stroke="#111" stroke-width="0.9"/><rect x="622.8" y="55.1" width="21.8" height="121.7" fill="#ff7f0e" stroke="#111" stroke-width="0.9"/><rect x="655" y="83.2" width="21.8" height="93.6" fill="#984ea3" stroke="#111" stroke-width="0.9"/><line x1="601.7" y1="105.3" x2="601.7" y2="115.9" stroke="#000" stroke-width="0.9"/><line x1="597.2" y1="105.3" x2="606.2" y2="105.3" stroke="#000" stroke-width="0.9"/><line x1="597.2" y1="115.9" x2="606.2" y2="115.9" stroke="#000" stroke-width="0.9"/><line x1="633.7" y1="47.6" x2="633.7" y2="62.5" stroke="#000" stroke-width="0.9"/><line x1="629.2" y1="47.6" x2="638.2" y2="47.6" stroke="#000" stroke-width="0.9"/><line x1="629.2" y1="62.5" x2="638.2" y2="62.5" stroke="#000" stroke-width="0.9"/><line x1="665.9" y1="74.5" x2="665.9" y2="91.2" stroke="#000" stroke-width="0.9"/><line x1="661.4" y1="74.5" x2="670.4" y2="74.5" stroke="#000" stroke-width="0.9"/><line x1="661.4" y1="91.2" x2="670.4" y2="91.2" stroke="#000" stroke-width="0.9"/><circle cx="595.4" cy="104.3" r="1.95" fill="none" stroke="#000" stroke-width="0.9"/><circle cx="601.7" cy="113.3" r="1.95" fill="none" stroke="#000" stroke-width="0.9"/><circle cx="608.1" cy="114.3" r="1.95" fill="none" stroke="#000" stroke-width="0.9"/><circle cx="627.2" cy="51.6" r="1.95" fill="none" stroke="#000" stroke-width="0.9"/><circle cx="633.6" cy="49.6" r="1.95" fill="none" stroke="#000" stroke-width="0.9"/><circle cx="640.2" cy="63.5" r="1.95" fill="none" stroke="#000" stroke-width="0.9"/><circle cx="672" cy="73.1" r="1.95" fill="none" stroke="#000" stroke-width="0.9"/><circle cx="659.3" cy="86.2" r="1.95" fill="none" stroke="#000" stroke-width="0.9"/><circle cx="665.9" cy="89.2" r="1.95" fill="none" stroke="#000" stroke-width="0.9"/><rect x="582.8" y="1.4" width="101.4" height="175.4" fill="none" stroke="#000" stroke-width="1.5"/><line x1="579.85" y1="176.8" x2="582.8" y2="176.8" stroke="#222" stroke-width="1"/><text x="578.65" y="180.35" font-size="9" text-anchor="end" font-weight="normal" fill="#1a1a1a">0</text><line x1="579.85" y1="127.57" x2="582.8" y2="127.57" stroke="#222" stroke-width="1"/><text x="578.65" y="131.12" font-size="9" text-anchor="end" font-weight="normal" fill="#1a1a1a">0.01</text><line x1="579.85" y1="78.34" x2="582.8" y2="78.34" stroke="#222" stroke-width="1"/><text x="578.65" y="81.89" font-size="9" text-anchor="end" font-weight="normal" fill="#1a1a1a">0.02</text><line x1="579.85" y1="29.11" x2="582.8" y2="29.11" stroke="#222" stroke-width="1"/><text x="578.65" y="32.66" font-size="9" text-anchor="end" font-weight="normal" fill="#1a1a1a">0.03</text><line x1="601.7" y1="176.8" x2="601.7" y2="179.55" stroke="#222" stroke-width="1"/><text x="601.7" y="188.8" font-size="10" text-anchor="middle" font-weight="normal" fill="#1a1a1a">R1R2</text><line x1="633.7" y1="176.8" x2="633.7" y2="179.55" stroke="#222" stroke-width="1"/><text x="633.7" y="188.8" font-size="10" text-anchor="middle" font-weight="normal" fill="#1a1a1a">R2TP</text><line x1="665.9" y1="176.8" x2="665.9" y2="179.55" stroke="#222" stroke-width="1"/><text x="665.9" y="188.8" font-size="10" text-anchor="middle" font-weight="normal" fill="#1a1a1a">R2SP</text><path d="M601.7 20.9V13.6H665.9V20.9" fill="none" stroke="#333" stroke-width="0.9"/><text x="633.8" y="13.6" font-size="13" text-anchor="middle" font-weight="bold" fill="#000">*</text><path d="M601.7 40.7V33.5H632.5V40.7" fill="none" stroke="#333" stroke-width="0.9"/><path d="M634.9 40.7V33.5H665.9V40.7" fill="none" stroke="#333" stroke-width="0.9"/><text x="610.7" y="33.5" font-size="13" text-anchor="middle" font-weight="bold" fill="#000">*</text><text x="617.1" y="33.5" font-size="13" text-anchor="middle" font-weight="bold" fill="#000">*</text><text x="623.5" y="33.5" font-size="13" text-anchor="middle" font-weight="bold" fill="#000">*</text><text x="650.4" y="33.5" font-size="13" text-anchor="middle" font-weight="bold" fill="#000">*</text><g transform="translate(551.8,121.51) rotate(-90)" fill="#1a1a1a"><text x="-0.65" y="0" font-size="10">k</text><text x="4.65" y="1.4" font-size="9" letter-spacing="0.3">off1</text><text x="25.72" y="0" font-size="10">(sec</text><text x="45.17" y="-7.2" font-size="7">−1</text><text x="53.64" y="0" font-size="7.5">)</text></g><text x="561.5" y="10.9" font-size="13.8" text-anchor="start" font-weight="bold" fill="#000">G</text><rect x="596.1" y="309.2" width="20.8" height="75.5" fill="#1f77b4" stroke="#111" stroke-width="0.9"/><rect x="626.2" y="299" width="20.8" height="85.7" fill="#ff7f0e" stroke="#111" stroke-width="0.9"/><rect x="656.6" y="261.2" width="20.8" height="123.5" fill="#984ea3" stroke="#111" stroke-width="0.9"/><line x1="606.5" y1="305.5" x2="606.5" y2="313" stroke="#000" stroke-width="0.9"/><line x1="602" y1="305.5" x2="611" y2="305.5" stroke="#000" stroke-width="0.9"/><line x1="602" y1="313" x2="611" y2="313" stroke="#000" stroke-width="0.9"/><line x1="636.6" y1="297.5" x2="636.6" y2="300.5" stroke="#000" stroke-width="0.9"/><line x1="632.1" y1="297.5" x2="641.1" y2="297.5" stroke="#000" stroke-width="0.9"/><line x1="632.1" y1="300.5" x2="641.1" y2="300.5" stroke="#000" stroke-width="0.9"/><line x1="667" y1="254.5" x2="667" y2="269.1" stroke="#000" stroke-width="0.9"/><line x1="662.5" y1="254.5" x2="671.5" y2="254.5" stroke="#000" stroke-width="0.9"/><line x1="662.5" y1="269.1" x2="671.5" y2="269.1" stroke="#000" stroke-width="0.9"/><circle cx="599.9" cy="305.5" r="1.95" fill="none" stroke="#000" stroke-width="0.9"/><circle cx="606.4" cy="311.6" r="1.95" fill="none" stroke="#000" stroke-width="0.9"/><circle cx="612.7" cy="309.9" r="1.95" fill="none" stroke="#000" stroke-width="0.9"/><circle cx="630.7" cy="297.7" r="1.95" fill="none" stroke="#000" stroke-width="0.9"/><circle cx="636.8" cy="299.8" r="1.95" fill="none" stroke="#000" stroke-width="0.9"/><circle cx="643" cy="298.1" r="1.95" fill="none" stroke="#000" stroke-width="0.9"/><circle cx="672.8" cy="254.7" r="1.95" fill="none" stroke="#000" stroke-width="0.9"/><circle cx="660.9" cy="260.7" r="1.95" fill="none" stroke="#000" stroke-width="0.9"/><circle cx="667" cy="269.4" r="1.95" fill="none" stroke="#000" stroke-width="0.9"/><rect x="588.5" y="209.2" width="95.7" height="175.5" fill="none" stroke="#000" stroke-width="1.5"/><line x1="585.55" y1="384.7" x2="588.5" y2="384.7" stroke="#222" stroke-width="1"/><text x="584.35" y="388.25" font-size="9" text-anchor="end" font-weight="normal" fill="#1a1a1a">0</text><line x1="585.55" y1="356.46" x2="588.5" y2="356.46" stroke="#222" stroke-width="1"/><text x="584.35" y="360.01" font-size="9" text-anchor="end" font-weight="normal" fill="#1a1a1a">0.001</text><line x1="585.55" y1="328.22" x2="588.5" y2="328.22" stroke="#222" stroke-width="1"/><text x="584.35" y="331.77" font-size="9" text-anchor="end" font-weight="normal" fill="#1a1a1a">0.002</text><line x1="585.55" y1="299.98" x2="588.5" y2="299.98" stroke="#222" stroke-width="1"/><text x="584.35" y="303.53" font-size="9" text-anchor="end" font-weight="normal" fill="#1a1a1a">0.003</text><line x1="585.55" y1="271.74" x2="588.5" y2="271.74" stroke="#222" stroke-width="1"/><text x="584.35" y="275.29" font-size="9" text-anchor="end" font-weight="normal" fill="#1a1a1a">0.004</text><line x1="585.55" y1="243.5" x2="588.5" y2="243.5" stroke="#222" stroke-width="1"/><text x="584.35" y="247.05" font-size="9" text-anchor="end" font-weight="normal" fill="#1a1a1a">0.005</text><line x1="606.5" y1="384.7" x2="606.5" y2="387.45" stroke="#222" stroke-width="1"/><text x="606.5" y="396.5" font-size="10" text-anchor="middle" font-weight="normal" fill="#1a1a1a">R1R2</text><line x1="636.6" y1="384.7" x2="636.6" y2="387.45" stroke="#222" stroke-width="1"/><text x="636.6" y="396.5" font-size="10" text-anchor="middle" font-weight="normal" fill="#1a1a1a">R2TP</text><line x1="667" y1="384.7" x2="667" y2="387.45" stroke="#222" stroke-width="1"/><text x="667" y="396.5" font-size="10" text-anchor="middle" font-weight="normal" fill="#1a1a1a">R2SP</text><path d="M606.5 227.9V221.6H667V227.9" fill="none" stroke="#333" stroke-width="0.9"/><text x="633.55" y="221.6" font-size="13" text-anchor="middle" font-weight="bold" fill="#000">*</text><text x="639.95" y="221.6" font-size="13" text-anchor="middle" font-weight="bold" fill="#000">*</text><path d="M606.5 247.7V241.5H635.4V247.7" fill="none" stroke="#333" stroke-width="0.9"/><path d="M637.8 247.7V241.5H667V247.7" fill="none" stroke="#333" stroke-width="0.9"/><text x="620.95" y="241.5" font-size="13" text-anchor="middle" font-weight="bold" fill="#000">*</text><text x="652.4" y="241.5" font-size="13" text-anchor="middle" font-weight="bold" fill="#000">*</text><g transform="translate(551.8,329.31) rotate(-90)" fill="#1a1a1a"><text x="-0.65" y="0" font-size="10">k</text><text x="4.65" y="1.4" font-size="9" letter-spacing="0.3">off2</text><text x="25.72" y="0" font-size="10">(sec</text><text x="45.17" y="-7.2" font-size="7">−1</text><text x="53.64" y="0" font-size="7.5">)</text></g><text x="561.5" y="218.8" font-size="13.8" text-anchor="start" font-weight="bold" fill="#000">H</text></svg></body></html>
